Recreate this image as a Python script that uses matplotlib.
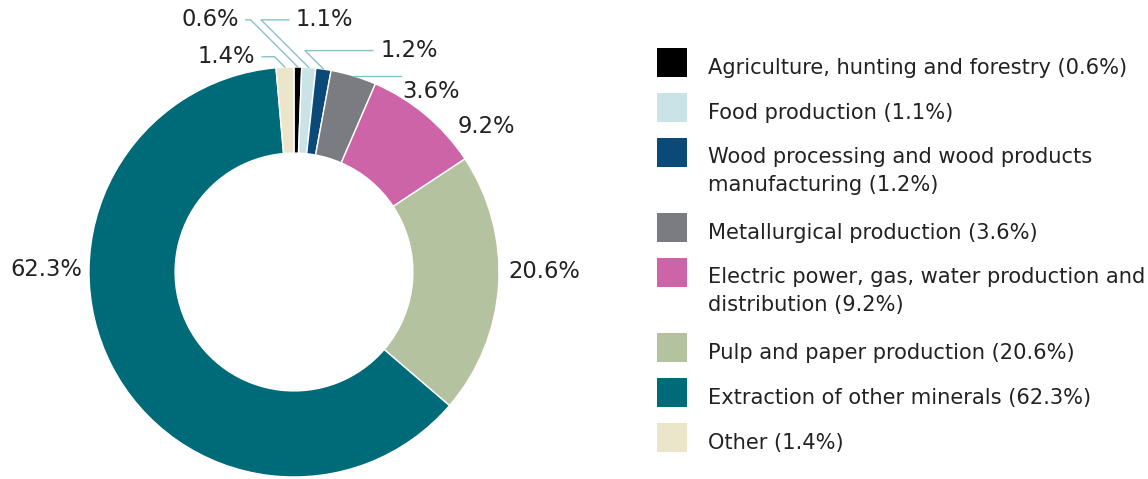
import numpy as np
import matplotlib.pyplot as plt
from matplotlib.patches import Rectangle

plt.rcParams['font.family'] = ['DejaVu Sans']

# industry shares, %
sectors = [
    "Agriculture, hunting and forestry",
    "Food production",
    "Wood processing and wood products\nmanufacturing",
    "Metallurgical production",
    "Electric power, gas, water production and\ndistribution",
    "Pulp and paper production",
    "Extraction of other minerals",
    "Other",
]
shares = [0.6, 1.1, 1.2, 3.6, 9.2, 20.6, 62.3, 1.4]
colors = ["#000000", "#c9e3e6", "#0b4a78", "#7b7c81", "#cd64a8",
          "#b5c2a0", "#006b78", "#ebe5c9"]

W, H = 1148, 479
fig = plt.figure(figsize=(W / 100, H / 100), dpi=100)

# donut: centre (294, 272) px, radius 205 px
cx, cy, R = 294, 272, 205
half = 1.4
side = 2 * half * R
ax = fig.add_axes([(cx - side / 2) / W, (H - cy - side / 2) / H, side / W, side / H])

wedges, _ = ax.pie(shares, colors=colors, startangle=90, counterclock=False,
                   radius=1.0, wedgeprops=dict(width=0.42, edgecolor='white', linewidth=1))
ax.set_xlim(-half, half)
ax.set_ylim(-half, half)
ax.set_aspect('equal')
ax.axis('off')

txt_color = "#222222"
lead_color = "#86c3c9"
fs_pie = 16.3
fs_leg = 15.1

# label placement: (text x, text y, ha, leader style)
layout = {
    0: (-0.27, 1.23, 'right', 'bent'),
    1: (0.01, 1.23, 'left', 'bent'),
    2: (0.42, 1.08, 'left', 'bent'),
    3: (0.53, 0.92, 'left', 'flat'),
    4: (0.94, 0.71, 'center', None),
    5: (1.22, 0.0, 'center', None),
    6: (-1.21, 0.01, 'center', None),
    7: (-0.19, 1.05, 'right', 'bent'),
}

cum = np.cumsum([0] + shares[:-1])
for i, v in enumerate(shares):
    mid = np.deg2rad(90 - (cum[i] + v / 2) * 3.6)
    px, py = np.cos(mid), np.sin(mid)
    tx, ty, ha, style = layout[i]
    label = f"{v:.1f}%"
    if style is None:
        ax.text(tx, ty, label, ha=ha, va='center', fontsize=fs_pie, color=txt_color)
    elif style == 'flat':
        ax.plot([px, tx - 0.01], [py, py], color=lead_color, lw=1)
        ax.text(tx, ty - 0.04, label, ha=ha, va='center', fontsize=fs_pie, color=txt_color)
    else:
        ax.annotate(label, xy=(px, py), xytext=(tx, ty), ha=ha, va='center',
                    fontsize=fs_pie, color=txt_color,
                    arrowprops=dict(arrowstyle='-', color=lead_color, lw=1,
                                    shrinkA=3, shrinkB=0,
                                    connectionstyle='angle,angleA=0,angleB=135,rad=0'))

# legend drawn by hand, in pixel units
sq_x, sq_w, sq_h = 657, 30, 29
text_x = 708
top = 48
for name, v, c in zip(sectors, shares, colors):
    fig.patches.append(Rectangle((sq_x / W, 1 - (top + sq_h) / H), sq_w / W, sq_h / H,
                                 transform=fig.transFigure, facecolor=c, edgecolor='none'))
    t = fig.text(text_x / W, 1 - (top + 20) / H, f"{name} ({v:.1f}%)", ha='left',
                 va='center', fontsize=fs_leg, color=txt_color, linespacing=1.5)
    nlines = name.count("\n")
    if nlines:
        t.set_va('top')
        t.set_y(1 - (top + 9) / H)
    top += 45 + 30 * nlines

fig.savefig("out.png", dpi=100)
